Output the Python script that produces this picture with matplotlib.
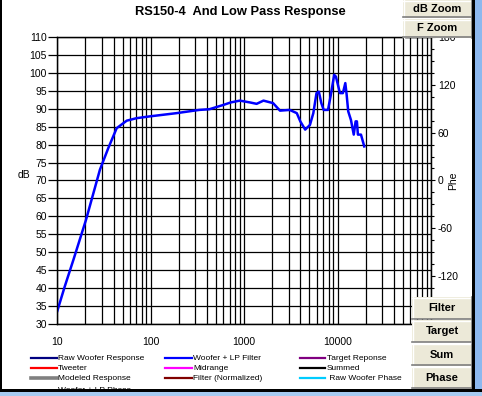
import matplotlib
matplotlib.use("Agg")
import matplotlib.pyplot as plt
from matplotlib.patches import Rectangle
from matplotlib.lines import Line2D
from matplotlib.ticker import FixedLocator, LogLocator, NullFormatter, MultipleLocator

plt.rcParams['font.family'] = ['Liberation Sans', 'DejaVu Sans']
plt.rcParams['axes.unicode_minus'] = False

# data
freq = [10, 12, 15, 20.3, 28.6, 35.1, 43.2, 55.4, 70.8, 98, 189, 330, 425,
        600, 720, 900, 1150, 1360, 1610, 2040, 2420, 3070, 3660, 3990, 4500,
        5060, 5500, 5950, 6300, 6700, 7100, 7900, 8400, 9200, 9600, 10600,
        11400, 12100, 12500, 13000, 13900, 14900, 15600, 16100, 16500, 17800,
        19300]
woofer_lp_db = [33.5, 40.3, 48.1, 59.0, 73.0, 79.0, 84.6, 86.7, 87.4, 87.9,
                88.8, 89.7, 89.9, 91.1, 91.8, 92.3, 91.8, 91.4, 92.3, 91.6,
                89.5, 89.7, 88.8, 86.5, 84.2, 85.5, 88.8, 94.4, 94.8, 91.6,
                89.7, 89.7, 93.4, 99.5, 99.0, 94.4, 94.4, 97.2, 94.0, 89.3,
                86.9, 82.8, 86.5, 86.5, 82.8, 82.8, 79.5]

x_ticks = [10, 100, 1000, 10000, 100000]
x_tick_labels = ['10', '100', '1000', '10000', '']
db_ticks = list(range(30, 111, 5))
phase_ticks = [-120, -60, 0, 60, 120, 180]

legend_cols = [
    [('Raw Woofer Response', '#000080'), ('Tweeter', '#FF0000'),
     ('Modeled Response', '#808080'), ('Woofer + LP Phase', '#008000')],
    [('Woofer + LP Filter', '#0000FF'), ('Midrange', '#FF00FF'),
     ('Filter (Normalized)', '#800000')],
    [('Target Reponse', '#800080'), ('Summed', '#000000'),
     (' Raw Woofer Phase', '#00CCFF')],
]
buttons_top = ['dB Zoom', 'F Zoom']
buttons_bottom = ['Filter', 'Target', 'Sum', 'Phase']

W, H = 482, 396
fig = plt.figure(figsize=(W / 100, H / 100), dpi=100)
fig.patch.set_facecolor('white')


def fx(px):
    return px / W


def fy(py):
    return 1 - py / H


# main axes
ax = fig.add_axes([fx(57.3), fy(323.5), fx(431) - fx(57.3), fy(37.3) - fy(323.5)])
ax.set_xscale('log')
ax.set_xlim(10, 100000)
ax.set_ylim(30, 110)
ax.plot(freq, woofer_lp_db, color='#0000FF', lw=1.8, zorder=3)

ax.xaxis.set_major_locator(FixedLocator(x_ticks))
ax.set_xticklabels(x_tick_labels)
ax.xaxis.set_minor_locator(LogLocator(base=10, subs=range(2, 10)))
ax.xaxis.set_minor_formatter(NullFormatter())
ax.set_yticks(db_ticks)
ax.grid(which='both', axis='x', color='black', lw=0.9)
ax.grid(which='major', axis='y', color='black', lw=0.9)
ax.tick_params(axis='x', which='both', length=0, pad=10, labelsize=7.5)
ax.tick_params(axis='y', which='both', length=6.5, width=0.9, pad=1, labelsize=7.5)
for s in ax.spines.values():
    s.set_color('black')
    s.set_linewidth(0.9)
ax.set_ylabel('dB', fontsize=7.5, rotation=0, labelpad=0)
ax.yaxis.set_label_coords(-0.088, 0.5)

ax2 = ax.twinx()
ax2.set_ylim(-180, 180)
ax2.set_yticks(phase_ticks)
ax2.yaxis.set_minor_locator(MultipleLocator(15))
ax2.tick_params(axis='y', which='major', length=3, width=0.8, pad=2, labelsize=7.5)
ax2.tick_params(axis='y', which='minor', length=2, width=0.8)
ax2.set_ylabel('Phe', fontsize=7.5, labelpad=-8)
for s in ax2.spines.values():
    s.set_linewidth(0.9)

fig.text(fx(240), fy(12), 'RS150-4  And Low Pass Response', ha='center', va='center',
         fontsize=9.3, fontweight='bold')

# legend drawn by hand below the plot
col_x = [(31, 57, 58), (165, 192, 193), (300, 325, 327)]
row_y = [358, 368, 378, 391]
for (x0, x1, xt), items in zip(col_x, legend_cols):
    for (label, color), yy in zip(items, row_y):
        lw = 2.6 if color == '#808080' else 1.6
        fig.add_artist(Line2D([fx(x0), fx(x1)], [fy(yy), fy(yy)], color=color, lw=lw))
        fig.text(fx(xt), fy(yy), label, ha='left', va='center', fontsize=6)


def button(x0, y0, x1, y1, text):
    fig.add_artist(Rectangle((fx(x0), fy(y1)), fx(x1) - fx(x0), fy(y0) - fy(y1),
                             facecolor='#ECE9D8', edgecolor='none', zorder=20))
    fig.add_artist(Line2D([fx(x0), fx(x1)], [fy(y0 + 0.5)] * 2, color='white', lw=1, zorder=21))
    fig.add_artist(Line2D([fx(x0 + 0.5)] * 2, [fy(y0), fy(y1)], color='white', lw=1, zorder=21))
    fig.add_artist(Line2D([fx(x0), fx(x1)], [fy(y1 - 0.5)] * 2, color='#7F7F7F', lw=1.2, zorder=21))
    fig.add_artist(Line2D([fx(x1 - 0.5)] * 2, [fy(y0), fy(y1)], color='#7F7F7F', lw=1.2, zorder=21))
    fig.text(fx((x0 + x1) / 2), fy((y0 + y1) / 2), text, ha='center', va='center',
             fontsize=8, fontweight='bold', zorder=22)


button(403, 0, 472, 17.5, buttons_top[0])
button(403, 19, 472, 37.5, buttons_top[1])
for i, t in enumerate(buttons_bottom):
    button(412, 297 + i * 23.3, 472, 319 + i * 23.3, t)

# window frame
fig.add_artist(Rectangle((0, 0), fx(2), 1, facecolor='black', edgecolor='none', zorder=25))
fig.add_artist(Rectangle((fx(472), 0), fx(3), 1, facecolor='black', edgecolor='none', zorder=25))
fig.add_artist(Rectangle((fx(475), 0), fx(7), 1, facecolor='#8DB8EE', edgecolor='none', zorder=25))
fig.add_artist(Rectangle((0, fy(392)), 1, fy(389) - fy(392), facecolor='black', edgecolor='none', zorder=25))
fig.add_artist(Rectangle((0, 0), 1, fy(392), facecolor='#A6CAF0', edgecolor='none', zorder=25))

fig.savefig('out.png', dpi=100)
